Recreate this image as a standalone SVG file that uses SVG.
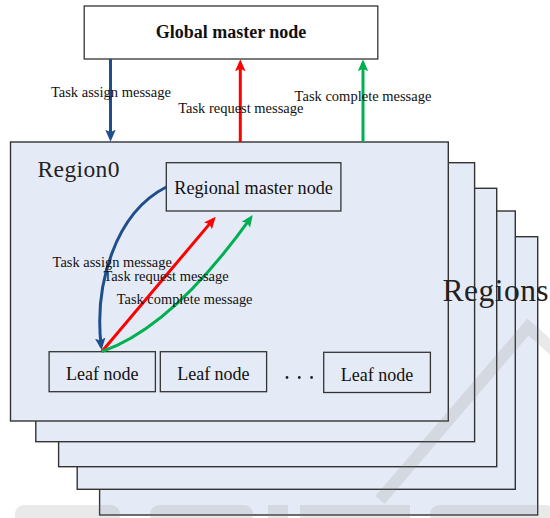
<svg xmlns="http://www.w3.org/2000/svg" width="550" height="518" viewBox="0 0 550 518">
  <style>
    .region { fill: #e5ebf6; stroke: #333; stroke-width: 1.4; }
    .node { fill: #e5ebf6; stroke: #333; stroke-width: 1.3; }
    .top { fill: #fff; stroke: #333; stroke-width: 1.3; }
    .lbl { font-family: "Liberation Serif", "Times New Roman", serif; fill: #111; }
    .msg { font-family: "Liberation Serif", "Times New Roman", serif; font-size: 14.3px; fill: #111; }
    .title { font-family: "Liberation Serif", "Times New Roman", serif; fill: #222; }
    .blue { stroke: #1f4e8c; }
    .red { stroke: #ff0000; }
    .green { stroke: #00b050; }
    .arrow { fill: none; stroke-width: 3; }
    .wm { fill: #7f7f7f; opacity: 0.17; }
  </style>
  <defs>
    <marker id="headBlue" markerUnits="userSpaceOnUse" markerWidth="12" markerHeight="11" refX="8.5" refY="5.25" orient="auto">
      <path d="M0,0 L12,5.25 L0,10.5 L2.5,5.25 z" fill="#1f4e8c"/>
    </marker>
    <marker id="headRed" markerUnits="userSpaceOnUse" markerWidth="12" markerHeight="11" refX="8.5" refY="5.25" orient="auto">
      <path d="M0,0 L12,5.25 L0,10.5 L2.5,5.25 z" fill="#ff0000"/>
    </marker>
    <marker id="headGreen" markerUnits="userSpaceOnUse" markerWidth="12" markerHeight="11" refX="8.5" refY="5.25" orient="auto">
      <path d="M0,0 L12,5.25 L0,10.5 L2.5,5.25 z" fill="#00b050"/>
    </marker>
  </defs>

  <rect width="550" height="518" fill="#fff"/>

  <!-- stacked region sheets, back to front -->
  <g id="region-stack">
    <rect class="region" x="99.6" y="236.7" width="438.1" height="278.3"/>
    <rect class="region" x="77.2" y="211" width="438.1" height="278.3"/>
    <rect class="region" x="58.6" y="188.3" width="438.1" height="278.4"/>
    <rect class="region" x="35.8" y="162.7" width="438.8" height="279"/>
  </g>

  <g id="region0">
    <rect class="region" x="10.5" y="142" width="437.8" height="279"/>
    <text class="title" x="37.5" y="177.3" font-size="23.5" textLength="82" lengthAdjust="spacing">Region0</text>
  </g>

  <g id="regions-label">
    <text class="title" x="442.6" y="301" font-size="31.5" textLength="106" lengthAdjust="spacing">Regions</text>
  </g>

  <g id="global-master">
    <rect class="top" x="84.2" y="6" width="293.6" height="53"/>
    <text class="lbl" x="231" y="38" font-size="18" font-weight="bold" text-anchor="middle">Global master node</text>
  </g>

  <g id="regional-master">
    <rect class="node" x="166.3" y="162.7" width="174.6" height="48.3"/>
    <text class="lbl" x="253.6" y="194" font-size="18.2" text-anchor="middle">Regional master node</text>
  </g>

  <g id="leaf1">
    <rect class="node" x="49.1" y="351.7" width="106.3" height="40"/>
    <text class="lbl" x="102.2" y="380" font-size="18" text-anchor="middle">Leaf node</text>
  </g>
  <g id="leaf2">
    <rect class="node" x="160.3" y="351.7" width="106.3" height="40"/>
    <text class="lbl" x="213.4" y="380" font-size="18" text-anchor="middle">Leaf node</text>
  </g>
  <g id="ellipsis">
    <circle cx="287" cy="377.5" r="1.4" fill="#222"/>
    <circle cx="299.3" cy="377.5" r="1.4" fill="#222"/>
    <circle cx="311.6" cy="377.5" r="1.4" fill="#222"/>
  </g>
  <g id="leaf3">
    <rect class="node" x="323.7" y="352.3" width="106.7" height="40.2"/>
    <text class="lbl" x="377" y="380.5" font-size="18" text-anchor="middle">Leaf node</text>
  </g>

  <!-- message connectors -->
  <g id="connectors">
    <path class="arrow blue" d="M110.5,59 L110.5,138.2" marker-end="url(#headBlue)"/>
    <path class="arrow red" d="M240.3,142 L240.3,62.8" marker-end="url(#headRed)"/>
    <path class="arrow green" d="M363,142 L363,62.8" marker-end="url(#headGreen)"/>

    <path class="arrow blue" stroke-width="2.7" d="M166.3,187 C115,213 94,285 101.2,346.5" marker-end="url(#headBlue)"/>
    <path class="arrow red" stroke-width="2.7" d="M101.7,351.7 L213.4,219.4" marker-end="url(#headRed)"/>
    <path class="arrow green" stroke-width="2.7" d="M101.7,351.7 Q172.6,327 250.7,217.9" marker-end="url(#headGreen)"/>
  </g>

  <g id="connector-labels">
    <text class="msg" x="50.9" y="96.5" textLength="120" lengthAdjust="spacingAndGlyphs">Task assign message</text>
    <text class="msg" x="178.2" y="112.7" textLength="125.2" lengthAdjust="spacingAndGlyphs">Task request message</text>
    <text class="msg" x="294.6" y="100.7" textLength="136.8" lengthAdjust="spacingAndGlyphs">Task complete message</text>

    <text class="msg" x="52.6" y="267.3" textLength="119.3" lengthAdjust="spacingAndGlyphs">Task assign message</text>
    <text class="msg" x="103.5" y="280.7" textLength="125.2" lengthAdjust="spacingAndGlyphs">Task request message</text>
    <text class="msg" x="116.8" y="304" textLength="135.7" lengthAdjust="spacingAndGlyphs">Task complete message</text>
  </g>

  <!-- faint background mark -->
  <g id="backdrop-mark">
    <polyline points="380,500 528,327 565,360" fill="none" stroke="#7f7f7f" stroke-width="12" opacity="0.17"/>
    <rect class="wm" x="15" y="505" width="105" height="20" rx="9"/>
    <rect class="wm" x="150" y="505" width="103" height="20" rx="9"/>
    <rect class="wm" x="268" y="505" width="20" height="20"/>
    <rect class="wm" x="300" y="505" width="110" height="20"/>
    <rect class="wm" x="430" y="505" width="125" height="20" rx="9"/>
  </g>
</svg>
